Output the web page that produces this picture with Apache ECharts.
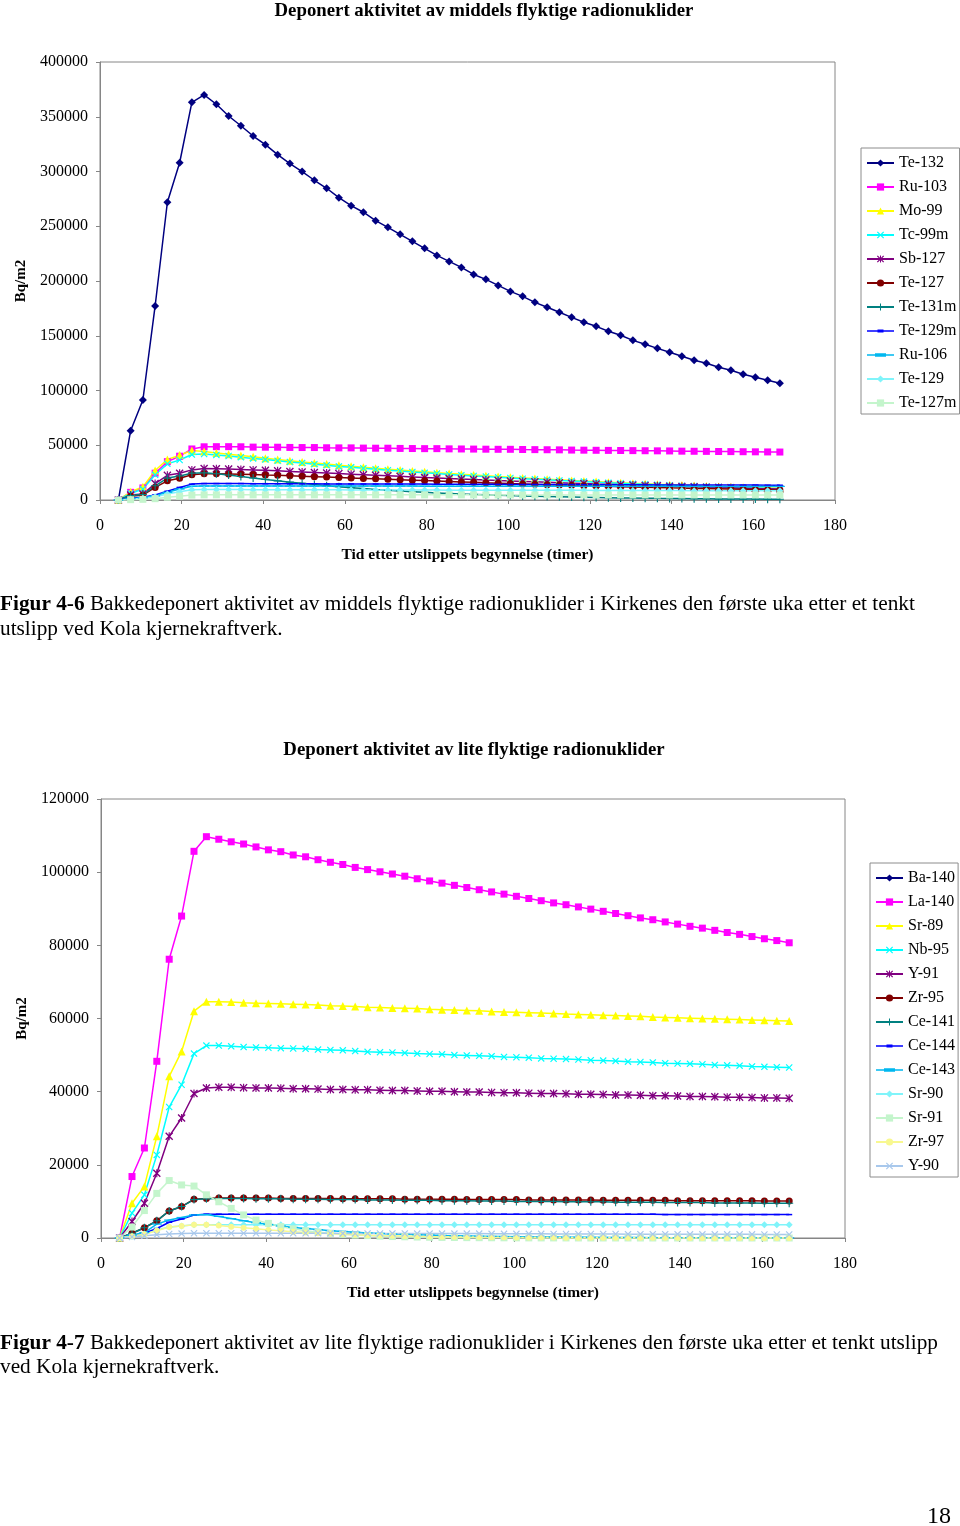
<!DOCTYPE html>
<html><head><meta charset="utf-8">
<script src="https://cdn.jsdelivr.net/npm/echarts@6/dist/echarts.min.js"></script>
<style>html,body{margin:0;padding:0;background:#fff}#c{width:960px;height:1526px}</style>
</head><body><div id="c"></div>
<script>
// ---------- shared x values (hours) ----------
const hours = [4.5,7.5,10.5,13.5,16.5,19.5,22.5,25.5,28.5,31.5,
  34.5,37.5,40.5,43.5,46.5,49.5,52.5,55.5,58.5,61.5,
  64.5,67.5,70.5,73.5,76.5,79.5,82.5,85.5,88.5,91.5,
  94.5,97.5,100.5,103.5,106.5,109.5,112.5,115.5,118.5,121.5,
  124.5,127.5,130.5,133.5,136.5,139.5,142.5,145.5,148.5,151.5,
  154.5,157.5,160.5,163.5,166.5];

// ---------- Chart 1: middels flyktige ----------
const te132 = [0,63300,91300,177200,271900,308000,363200,369900,361400,350700,
  341800,332400,324500,315400,307200,299900,292000,284700,276100,268800,
  262800,255100,249000,242600,236200,229800,223400,217900,212400,206000,
  201500,196000,190500,186000,180500,176000,171400,166800,162300,158600,
  154100,150400,145800,142200,138500,134900,131200,127600,124900,121200,
  118500,114800,112100,109300,106600];
const ru103 = [0,7000,11000,24500,35000,40000,46600,48600,48700,48700,
  48600,48300,48200,48200,48000,47900,47900,47700,47600,47600,
  47400,47300,47300,47100,47000,46900,46900,46700,46600,46500,
  46400,46300,46300,46100,46000,45900,45800,45600,45500,45400,
  45300,45200,45100,45000,44900,44800,44600,44500,44400,44300,
  44200,44100,44000,43900,43800];
const mo99 = [0,7500,12000,27000,37000,41000,45200,44200,43000,41800,
  40600,39400,38200,37000,35900,34800,33800,32800,31800,30800,
  29900,29000,28100,27300,26500,25700,24900,24200,23500,22800,
  22100,21400,20800,20200,19600,19000,18400,17900,17300,16800,
  16300,15800,15300,14900,14400,14000,13600,13200,12800,12400,
  12000,11700,11300,11000,10700];
const tc99m = [0,6000,10000,23000,33000,36500,41500,42000,41200,40200,
  39100,38000,36900,35800,34700,33700,32700,31700,30700,29800,
  28900,28000,27200,26400,25600,24800,24100,23400,22700,22000,
  21400,20700,20100,19500,18900,18400,17800,17300,16800,16300,
  15800,15300,14800,14400,14000,13500,13100,12700,12400,12000,
  11600,11300,11000,10600,10300];
const sb127 = [0,4500,5500,15000,22500,24500,27500,28800,28600,28300,
  27900,27500,27100,26600,26100,25600,25100,24600,24100,23600,
  23100,22600,22100,21600,21100,20600,20100,19600,19200,18700,
  18300,17800,17400,17000,16600,16200,15800,15400,15000,14600,
  14300,13900,13600,13200,12900,12600,12300,12000,11700,11400,
  11100,10800,10500,10300,10000];
const te127 = [0,3500,4500,11500,17500,19800,23000,24000,24000,23800,
  23500,23200,22800,22500,22100,21700,21300,20900,20500,20100,
  19700,19300,18900,18500,18100,17700,17300,16900,16500,16100,
  15700,15400,15000,14700,14300,14000,13700,13400,13100,12800,
  12500,12200,11900,11600,11400,11100,10900,10600,10400,10200,
  10000,9800,9600,9400,9200];
const te131m = [0,4000,5000,13000,20000,22000,24500,24800,24000,22800,
  21500,20100,18800,17500,16300,15200,14100,13100,12100,11200,
  10400,9600,8900,8200,7600,7000,6500,6000,5500,5100,
  4700,4300,4000,3700,3400,3100,2900,2700,2500,2300,
  2100,1900,1800,1700,1500,1400,1300,1200,1100,1000,
  900,850,800,750,700];
const te129m = [0,1500,2500,4500,8000,11500,14500,15000,15000,15000,
  15000,14900,14900,14900,14800,14800,14800,14700,14700,14700,
  14600,14600,14600,14500,14500,14500,14400,14400,14400,14300,
  14300,14300,14200,14200,14200,14100,14100,14100,14000,14000,
  14000,13900,13900,13900,13800,13800,13800,13700,13700,13700,
  13600,13600,13600,13500,13500];
const ru106 = [0,1200,2000,3800,7000,10000,12500,12800,12800,12800,
  12800,12800,12800,12800,12700,12700,12700,12700,12700,12700,
  12700,12700,12700,12700,12700,12600,12600,12600,12600,12600,
  12600,12600,12600,12600,12600,12600,12500,12500,12500,12500,
  12500,12500,12500,12500,12500,12500,12400,12400,12400,12400,
  12400,12400,12400,12400,12400];
const te129 = [0,800,1500,3000,5500,7500,9300,9500,9500,9500,
  9500,9400,9400,9400,9400,9300,9300,9300,9300,9200,
  9200,9200,9200,9100,9100,9100,9100,9000,9000,9000,
  9000,8900,8900,8900,8900,8800,8800,8800,8800,8700,
  8700,8700,8700,8600,8600,8600,8600,8500,8500,8500,
  8500,8400,8400,8400,8400];
const te127m = [0,300,600,1200,2500,3500,4500,4700,4700,4700,
  4700,4700,4700,4700,4700,4700,4700,4700,4700,4700,
  4700,4700,4700,4700,4700,4700,4700,4700,4700,4700,
  4600,4600,4600,4600,4600,4600,4600,4600,4600,4600,
  4600,4600,4600,4600,4600,4600,4600,4600,4600,4600,
  4600,4600,4600,4600,4600];

// ---------- Chart 2: lite flyktige ----------
const ba140 = []; // not visible in the plot area, legend only
const la140 = [0,16800,24600,48300,76200,88000,105700,109700,109000,108300,
  107700,106900,106100,105600,104700,104200,103400,102700,102100,101300,
  100700,100100,99500,98900,98200,97600,97000,96400,95800,95200,
  94600,94000,93400,92800,92200,91600,91100,90500,89900,89300,
  88700,88100,87500,87000,86400,85800,85200,84700,84100,83500,
  83000,82400,81800,81300,80700];
const sr89 = [0,9500,14100,27800,44200,51000,62000,64600,64600,64500,
  64300,64200,64100,64000,63900,63800,63700,63500,63400,63300,
  63100,63000,62900,62800,62700,62500,62400,62300,62200,62100,
  61900,61800,61700,61600,61500,61400,61200,61100,61000,60900,
  60800,60700,60600,60400,60300,60200,60100,60000,59900,59800,
  59700,59600,59500,59400,59300];
const nb95 = [0,6800,11800,22700,35800,41900,50400,52600,52600,52400,
  52200,52100,52000,51900,51800,51700,51500,51400,51300,51100,
  50900,50800,50700,50600,50400,50300,50200,50000,49900,49800,
  49700,49500,49400,49300,49100,49000,48900,48800,48600,48500,
  48400,48200,48100,48000,47800,47700,47600,47500,47300,47200,
  47100,46900,46800,46700,46600];
const y91 = [0,4500,9500,17700,27800,32800,39500,41000,41200,41200,
  41100,41000,41000,40900,40800,40800,40700,40600,40600,40500,
  40500,40400,40300,40300,40200,40100,40100,40000,39900,39900,
  39800,39700,39700,39600,39500,39500,39400,39300,39300,39200,
  39100,39100,39000,38900,38900,38800,38700,38700,38600,38500,
  38500,38400,38300,38300,38200];
const zr95 = [0,1300,2800,4700,7400,8600,10600,10800,10900,10900,
  10900,10900,10900,10800,10800,10800,10800,10800,10700,10700,
  10700,10700,10700,10600,10600,10600,10600,10600,10500,10500,
  10500,10500,10500,10400,10400,10400,10400,10400,10400,10300,
  10300,10300,10300,10300,10300,10200,10200,10200,10200,10200,
  10200,10200,10100,10100,10100];
const ce141 = [0,1300,2800,4700,7400,8600,10500,10700,10800,10800,
  10800,10700,10700,10700,10600,10600,10600,10500,10500,10500,
  10400,10400,10400,10300,10300,10300,10200,10200,10200,10100,
  10100,10100,10000,10000,10000,10000,9900,9900,9900,9900,
  9800,9800,9800,9800,9700,9700,9700,9700,9600,9600,
  9600,9600,9500,9500,9500];
const ce144 = [0,600,1300,2600,4300,5200,6300,6500,6500,6500,
  6500,6500,6500,6500,6500,6500,6500,6500,6500,6500,
  6500,6500,6500,6500,6500,6500,6500,6500,6500,6500,
  6500,6500,6500,6500,6500,6500,6500,6500,6500,6500,
  6500,6500,6500,6500,6400,6400,6400,6400,6400,6400,
  6400,6400,6400,6400,6400];
const ce143 = [0,800,1500,3800,4900,5600,6300,6400,5900,5300,
  4700,4200,3700,3300,2900,2600,2300,2000,1800,1600,
  1400,1250,1100,1000,900,800,700,620,550,490,
  440,390,350,310,280,250,220,200,180,160,
  140,130,115,100,90,80,75,70,65,60,
  55,50,45,40,35];
const sr90 = [0,400,1000,2200,3000,3300,3600,3600,3600,3600,
  3600,3600,3600,3600,3600,3600,3600,3600,3600,3600,
  3600,3600,3600,3600,3600,3600,3600,3600,3600,3600,
  3600,3600,3600,3600,3600,3600,3600,3600,3600,3600,
  3600,3600,3600,3600,3600,3600,3600,3600,3600,3600,
  3600,3600,3600,3600,3600];
const sr91 = [0,3000,7500,12200,15700,14500,14200,11800,9900,8100,
  6300,4900,4000,3100,2500,2000,1600,1300,1000,800,
  650,500,400,330,260,200,160,130,100,80,
  65,50,40,30,25,20,15,12,10,8,
  6,5,4,3,2,2,1,1,1,1,
  1,0,0,0,0];
const zr97 = [0,500,1000,2000,3000,3300,3600,3600,3400,3100,
  2800,2500,2200,2000,1700,1500,1300,1200,1000,900,
  780,690,610,540,470,410,360,320,280,250,
  220,190,170,150,130,115,100,90,80,70,
  60,55,50,45,40,35,30,25,20,18,
  16,14,12,10,9];
const y90 = [0,300,600,900,1100,1200,1300,1300,1300,1300,
  1300,1300,1300,1300,1300,1300,1300,1300,1250,1250,
  1250,1250,1250,1250,1200,1200,1200,1200,1200,1200,
  1150,1150,1150,1150,1150,1100,1100,1100,1100,1100,
  1100,1050,1050,1050,1050,1050,1000,1000,1000,1000,
  1000,1000,950,950,950];

// ---------- styling ----------
const FONT = '"Liberation Serif","Times New Roman",serif';
const SYM_X = 'path://M0,1.2L1.2,0L5,3.8L8.8,0L10,1.2L6.2,5L10,8.8L8.8,10L5,6.2L1.2,10L0,8.8L3.8,5Z';
const SYM_PLUS = 'path://M4.3,0H5.7V4.3H10V5.7H5.7V10H4.3V5.7H0V4.3H4.3Z';
const SYM_STAR = 'path://M0,1.2L1.2,0L5,3.8L8.8,0L10,1.2L6.2,5L10,8.8L8.8,10L5,6.2L1.2,10L0,8.8L3.8,5Z M4.3,0H5.7V10H4.3Z';
const SYM_SDASH = 'path://M0,0H10V5H0Z';
const SYM_LDASH = 'path://M0,0H10V3.5H0Z';
// legend icons (27x9 box) for the dash-marker series: line + dash
const ICON_SDASH = 'path://M0,0h0.01v0.01h-0.01Z M26.99,8.99h0.01v0.01h-0.01Z M0,3.8H27V5.2H0Z M10.5,3H16.5V6H10.5Z';
const ICON_LDASH = 'path://M0,0h0.01v0.01h-0.01Z M26.99,8.99h0.01v0.01h-0.01Z M0,3.8H27V5.2H0Z M8,2.7H19V6.3H8Z';
const AXIS_GRAY = '#868686';

function line(name, arr, color, symbol, size, idx) {
  return {
    name, type: 'line', xAxisIndex: idx, yAxisIndex: idx,
    data: arr.map((v, i) => [hours[i], v]),
    symbol, symbolSize: size, showSymbol: true, symbolKeepAspect: true,
    lineStyle: { color, width: 1.5 },
    itemStyle: { color, borderWidth: 0 },
    emphasis: { disabled: true },
    animation: false
  };
}

const series = [
  line('Te-132', te132, '#000080', 'diamond', 8, 0),
  line('Ru-103', ru103, '#FF00FF', 'rect', 7, 0),
  line('Mo-99', mo99, '#FFFF00', 'triangle', 8, 0),
  line('Tc-99m', tc99m, '#00FFFF', SYM_X, 7, 0),
  line('Sb-127', sb127, '#800080', SYM_STAR, 8, 0),
  line('Te-127', te127, '#800000', 'circle', 7, 0),
  line('Te-131m', te131m, '#008080', SYM_PLUS, 8, 0),
  line('Te-129m', te129m, '#0000FF', SYM_SDASH, [6, 3], 0),
  line('Ru-106', ru106, '#00B8F0', SYM_LDASH, [10, 3.5], 0),
  line('Te-129', te129, '#80F4FA', 'diamond', 7, 0),
  line('Te-127m', te127m, '#C4F5CC', 'rect', 7, 0),

  line('Ba-140', ba140, '#000080', 'diamond', 8, 1),
  line('La-140', la140, '#FF00FF', 'rect', 7, 1),
  line('Sr-89', sr89, '#FFFF00', 'triangle', 8, 1),
  line('Nb-95', nb95, '#00FFFF', SYM_X, 7, 1),
  line('Y-91', y91, '#800080', SYM_STAR, 8, 1),
  line('Zr-95', zr95, '#800000', 'circle', 7, 1),
  line('Ce-141', ce141, '#008080', SYM_PLUS, 8, 1),
  line('Ce-144', ce144, '#0000FF', SYM_SDASH, [6, 3], 1),
  line('Ce-143', ce143, '#00B8F0', SYM_LDASH, [10, 3.5], 1),
  line('Sr-90', sr90, '#80F4FA', 'diamond', 7, 1),
  line('Sr-91', sr91, '#C4F5CC', 'rect', 7, 1),
  line('Zr-97', zr97, '#F8F890', 'circle', 6, 1),
  line('Y-90', y90, '#A8C8EC', SYM_X, 7, 1)
];

const names1 = ['Te-132','Ru-103','Mo-99','Tc-99m','Sb-127','Te-127','Te-131m',
  {name:'Te-129m', icon: ICON_SDASH}, {name:'Ru-106', icon: ICON_LDASH},'Te-129','Te-127m'];
const names2 = ['Ba-140','La-140','Sr-89','Nb-95','Y-91','Zr-95','Ce-141',
  {name:'Ce-144', icon: ICON_SDASH}, {name:'Ce-143', icon: ICON_LDASH},'Sr-90','Sr-91','Zr-97','Y-90'];

function xAxis(idx, gap) {
  return {
    type: 'value', gridIndex: idx, min: 0, max: 180, interval: 20,
    name: 'Tid etter utslippets begynnelse (timer)', nameLocation: 'middle', nameGap: gap,
    nameTextStyle: { fontFamily: FONT, fontSize: 15.5, fontWeight: 'bold', color: '#000' },
    axisLine: { show: true, onZero: false, lineStyle: { color: AXIS_GRAY, width: 1 } },
    axisTick: { show: true, inside: false, length: 4, lineStyle: { color: AXIS_GRAY } },
    axisLabel: { fontFamily: FONT, fontSize: 16, color: '#000', margin: 18, formatter: v => String(v) },
    splitLine: { show: false }
  };
}
function yAxis(idx, max, interval) {
  return {
    type: 'value', gridIndex: idx, min: 0, max, interval,
    name: 'Bq/m2', nameLocation: 'middle', nameGap: 61, nameRotate: 90,
    nameTextStyle: { fontFamily: FONT, fontSize: 15, fontWeight: 'bold', color: '#000' },
    axisLine: { show: true, lineStyle: { color: AXIS_GRAY, width: 1 } },
    axisTick: { show: true, inside: false, length: 4, lineStyle: { color: AXIS_GRAY } },
    axisLabel: { fontFamily: FONT, fontSize: 16, color: '#000', margin: 12, formatter: v => String(v) },
    splitLine: { show: false }
  };
}
function legend(data, left, top) {
  return {
    data, orient: 'vertical', left, top,
    itemWidth: 27, itemHeight: 9, itemGap: 8,
    padding: [7, 3, 3, 5],
    borderColor: '#8c8c8c', borderWidth: 1, backgroundColor: '#fff',
    textStyle: { fontFamily: FONT, fontSize: 16, color: '#000', lineHeight: 16 },
    selectedMode: false
  };
}

const option = {
  animation: false,
  backgroundColor: '#fff',
  grid: [
    { left: 100, top: 62, width: 735, height: 438, show: true, borderColor: AXIS_GRAY, borderWidth: 1, backgroundColor: 'transparent', containLabel: false, outerBoundsMode: 'none' },
    { left: 101, top: 799, width: 744, height: 439, show: true, borderColor: AXIS_GRAY, borderWidth: 1, backgroundColor: 'transparent', containLabel: false, outerBoundsMode: 'none' }
  ],
  xAxis: [xAxis(0, 47), xAxis(1, 47)],
  yAxis: [yAxis(0, 400000, 50000), yAxis(1, 120000, 20000)],
  legend: [legend(names1, 861, 148), legend(names2, 870, 863)],
  tooltip: { show: false },
  series,
  graphic: [
    { type: 'text', x: 484, y: 11, style: { text: 'Deponert aktivitet av middels flyktige radionuklider', fontFamily: FONT, fontSize: 18.8, fontWeight: 'bold', fill: '#000', textAlign: 'center', textVerticalAlign: 'middle', align: 'center', verticalAlign: 'middle' } },
    { type: 'text', x: 474, y: 750, style: { text: 'Deponert aktivitet av lite flyktige radionuklider', fontFamily: FONT, fontSize: 18.8, fontWeight: 'bold', fill: '#000', textAlign: 'center', textVerticalAlign: 'middle', align: 'center', verticalAlign: 'middle' } },
    { type: 'text', x: 0, y: 592, style: {
        text: '{b|Figur 4-6} {n|Bakkedeponert aktivitet av middels flyktige radionuklider i Kirkenes den første uka etter et tenkt}\n{n|utslipp ved Kola kjernekraftverk.}',
        fontFamily: FONT, fontSize: 21.3, fill: '#000', lineHeight: 25, textAlign: 'left', textVerticalAlign: 'top', align: 'left', verticalAlign: 'top',
        rich: { b: { fontFamily: FONT, fontSize: 21.3, fontWeight: 'bold', lineHeight: 25, fill: '#000' }, n: { fontFamily: FONT, fontSize: 21.3, lineHeight: 25, fill: '#000' } } } },
    { type: 'text', x: 0, y: 1331, style: {
        text: '{b|Figur 4-7} {n|Bakkedeponert aktivitet av lite flyktige radionuklider i Kirkenes den første uka etter et tenkt utslipp}\n{n|ved Kola kjernekraftverk.}',
        fontFamily: FONT, fontSize: 21.3, fill: '#000', lineHeight: 24, textAlign: 'left', textVerticalAlign: 'top', align: 'left', verticalAlign: 'top',
        rich: { b: { fontFamily: FONT, fontSize: 21.3, fontWeight: 'bold', lineHeight: 24, fill: '#000' }, n: { fontFamily: FONT, fontSize: 21.3, lineHeight: 24, fill: '#000' } } } },
    { type: 'text', x: 951, y: 1517, style: { text: '18', fontFamily: FONT, fontSize: 24, fill: '#000', textAlign: 'right', textVerticalAlign: 'middle', align: 'right', verticalAlign: 'middle' } }
  ]
};

const chart = echarts.init(document.getElementById('c'), null, { renderer: 'canvas', width: 960, height: 1526 });
chart.setOption(option);
</script>
</body></html>
